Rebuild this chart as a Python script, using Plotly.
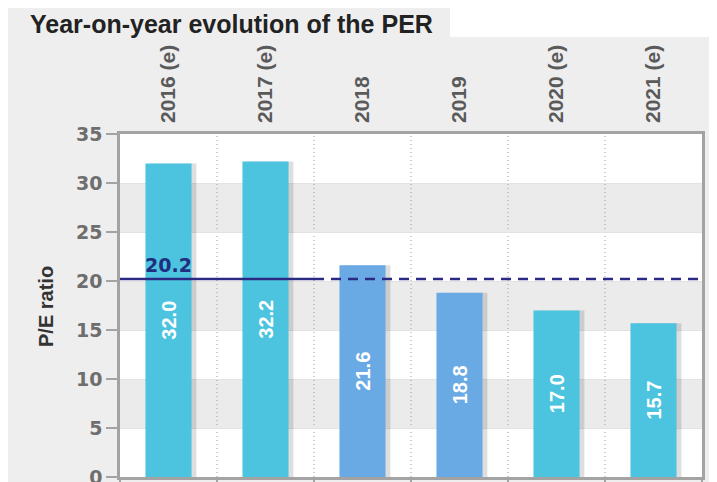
import plotly.graph_objects as go

# ---- data ----
categories = ["2016 (e)", "2017 (e)", "2018", "2019", "2020 (e)", "2021 (e)"]
per_values = [32.0, 32.2, 21.6, 18.8, 17.0, 15.7]
per_labels = ["32.0", "32.2", "21.6", "18.8", "17.0", "15.7"]
mean_per = 20.2
mean_label = "20.2"
mean_solid_span = 2          # number of leading categories where the average line is solid
y_ticks = [0, 5, 10, 15, 20, 25, 30, 35]

# ---- styles / layout (page pixels; the page body adds an 8px white margin) ----
OFF = 8
W, H = 717 - OFF, 482 - OFF
PLOT_L, PLOT_R, PLOT_T, PLOT_B = 120, 702, 134, 477   # page pixels
L, R, T, B = PLOT_L - OFF, W - (PLOT_R - OFF), PLOT_T - OFF, H - (PLOT_B - OFF)
PW, PH = W - L - R, H - T - B
CYAN = "#4cc4df"
BLUE = "#6aaae4"
NAVY = "#2a2a84"
BG = "#eeeeee"
BAND = "#ebebeb"
AXIS = "#a3a3a3"
bar_colors = [CYAN if "(e)" in c else BLUE for c in categories]

def fx(px):
    return (px - OFF - L) / PW

def fy(py):
    return (H - B - (py - OFF)) / PH

n = len(categories)
xs = list(range(n))
bar_w = 0.475

fig = go.Figure()

# bar shadows
fig.add_trace(go.Bar(
    x=xs, y=per_values, width=bar_w, offset=-bar_w / 2 + 0.05,
    marker=dict(color="rgba(0,0,0,0.13)", line=dict(width=0)),
    hoverinfo="skip", showlegend=False,
))
# bars
fig.add_trace(go.Bar(
    x=xs, y=per_values, width=bar_w, offset=-bar_w / 2,
    marker=dict(color=bar_colors, line=dict(width=0)),
    text=per_labels, textposition="inside", insidetextanchor="middle",
    textangle=-90,
    textfont=dict(family="Liberation Sans, Arial", size=20, color="white", weight="bold"),
    showlegend=False,
))
# average line: solid part then dashed part
fig.add_trace(go.Scatter(
    x=[-0.5, mean_solid_span - 0.5], y=[mean_per, mean_per], mode="lines",
    line=dict(color=NAVY, width=2.5), xaxis="x2", showlegend=False, hoverinfo="skip",
))
fig.add_trace(go.Scatter(
    x=[mean_solid_span - 0.5, n - 0.5], y=[mean_per, mean_per], mode="lines",
    line=dict(color=NAVY, width=2.5, dash="10px,7px"), xaxis="x2", showlegend=False,
    hoverinfo="skip",
))

shapes = []
# white area to the right of the title tab
shapes.append(dict(type="rect", xref="paper", yref="paper", x0=fx(450), x1=fx(760),
                   y0=fy(-20), y1=fy(37), fillcolor="white", line=dict(width=0), layer="below"))
# alternating bands
for i in range(len(y_ticks) - 1):
    if (len(y_ticks) - 2 - i) % 2 == 1:
        shapes.append(dict(type="rect", xref="paper", yref="y", x0=0, x1=1,
                           y0=y_ticks[i], y1=y_ticks[i + 1], fillcolor=BAND,
                           line=dict(width=0), layer="below"))
# dotted category separators
for i in range(n - 1):
    shapes.append(dict(type="line", xref="x", yref="paper", x0=i + 0.5, x1=i + 0.5,
                       y0=0, y1=1, line=dict(color="#9a9a9a", width=1, dash="1px,3px"),
                       layer="below"))

annotations = [
    dict(text="<b>Year-on-year evolution of the PER</b>", xref="paper", yref="paper",
         x=fx(28), y=fy(24), xanchor="left", yanchor="middle", showarrow=False,
         font=dict(family="Liberation Sans, Arial", size=25, color="#222222")),
    dict(text="<b>P/E ratio</b>", xref="paper", yref="paper", x=fx(46), y=fy(307),
         xanchor="center", yanchor="middle", textangle=-90, showarrow=False,
         font=dict(family="Liberation Sans, Arial", size=20, color="#333333")),
    dict(text=f"<b>{mean_label}</b>", xref="x", yref="y", x=0, y=mean_per,
         xanchor="center", yanchor="bottom", yshift=1, showarrow=False,
         font=dict(family="DejaVu Sans", size=19, color="#1f2f80")),
]

fig.update_layout(
    width=W, height=H,
    margin=dict(l=L, r=R, t=T, b=B, pad=0, autoexpand=False),
    paper_bgcolor=BG, plot_bgcolor="white",
    barmode="overlay",
    shapes=shapes, annotations=annotations,
    xaxis=dict(range=[-0.5, n - 0.5], tickvals=[i + 0.5 for i in range(-1, n)],
               showticklabels=False, ticks="outside", ticklen=8, tickcolor=AXIS,
               tickwidth=2, showgrid=False, zeroline=False, automargin=False,
               showline=True, linecolor=AXIS, linewidth=2.5, mirror=True, fixedrange=True),
    xaxis2=dict(range=[-0.5, n - 0.5], overlaying="x", side="top",
                tickvals=xs, ticktext=categories, tickangle=-90, ticks="",
                ticklabelstandoff=10, automargin=False,
                tickfont=dict(family="Liberation Sans, Arial", size=21, color="#5a5a5a",
                              weight="bold"),
                showgrid=False, zeroline=False, showline=False),
    yaxis=dict(range=[0, 35], tickvals=y_ticks, ticks="outside", ticklen=11,
               tickcolor=AXIS, tickwidth=2, automargin=False, ticklabeloverflow="allow",
               tickfont=dict(family="DejaVu Sans", size=19, color="#6e6e6e", weight="bold"),
               showgrid=True, gridcolor="#e2e2e2", gridwidth=1, zeroline=False,
               showline=True, linecolor=AXIS, linewidth=2.5, mirror=True),
)

fig.write_html("out.html")
